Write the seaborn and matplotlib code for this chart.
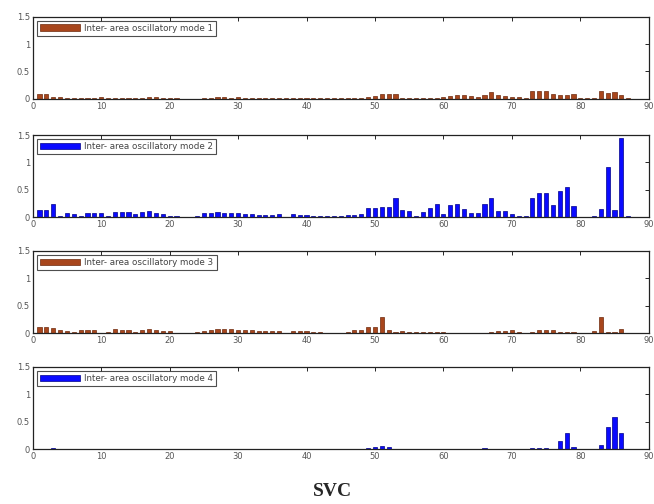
import numpy as np
import pandas as pd
import matplotlib
matplotlib.use("Agg")
import matplotlib.pyplot as plt
import seaborn as sns
from matplotlib.patches import Patch

bus_index = list(range(1, 88))

mode1 = [0.08,0.08,0.04,0.03,0.02,0.02,0.02,0.01,0.02,0.03,
         0.02,0.02,0.02,0.02,0.02,0.02,0.03,0.03,0.02,0.02,
         0.01,0.005,0.005,0.005,0.02,0.02,0.03,0.03,0.02,0.03,
         0.02,0.02,0.02,0.02,0.02,0.02,0.01,0.02,0.02,0.02,
         0.01,0.01,0.01,0.01,0.01,0.01,0.02,0.02,0.03,0.05,
         0.08,0.08,0.08,0.02,0.01,0.01,0.01,0.01,0.02,0.04,
         0.05,0.06,0.06,0.05,0.04,0.07,0.12,0.07,0.05,0.04,
         0.04,0.01,0.14,0.15,0.14,0.08,0.06,0.07,0.09,0.02,
         0.01,0.02,0.14,0.10,0.12,0.07,0.01]

mode2 = [0.14,0.14,0.24,0.03,0.08,0.05,0.03,0.08,0.08,0.08,
         0.03,0.10,0.10,0.10,0.05,0.10,0.12,0.07,0.05,0.03,
         0.02,0.01,0.01,0.03,0.07,0.08,0.10,0.08,0.07,0.08,
         0.05,0.05,0.04,0.04,0.04,0.05,0.01,0.05,0.04,0.04,
         0.03,0.03,0.03,0.03,0.03,0.04,0.04,0.06,0.16,0.16,
         0.18,0.18,0.35,0.13,0.12,0.03,0.09,0.16,0.24,0.05,
         0.22,0.24,0.15,0.07,0.07,0.24,0.35,0.12,0.12,0.06,
         0.03,0.02,0.35,0.45,0.45,0.22,0.47,0.56,0.20,0.00,
         0.00,0.02,0.15,0.91,0.13,1.45,0.02]

mode3 = [0.12,0.12,0.10,0.05,0.04,0.02,0.05,0.05,0.05,0.01,
         0.02,0.07,0.06,0.06,0.03,0.05,0.07,0.05,0.04,0.04,
         0.01,0.005,0.005,0.02,0.04,0.05,0.07,0.08,0.07,0.06,
         0.06,0.05,0.04,0.04,0.04,0.04,0.01,0.04,0.04,0.04,
         0.02,0.02,0.01,0.01,0.01,0.02,0.05,0.06,0.12,0.12,
         0.30,0.06,0.02,0.04,0.02,0.02,0.02,0.02,0.02,0.03,
         0.01,0.01,0.01,0.01,0.01,0.01,0.02,0.04,0.04,0.05,
         0.02,0.01,0.03,0.05,0.05,0.05,0.02,0.02,0.03,0.01,
         0.00,0.04,0.30,0.03,0.02,0.08,0.01]

mode4 = [0.01,0.01,0.02,0.00,0.00,0.00,0.00,0.00,0.00,0.00,
         0.00,0.00,0.00,0.00,0.00,0.00,0.00,0.01,0.00,0.00,
         0.00,0.00,0.00,0.00,0.00,0.00,0.00,0.00,0.00,0.00,
         0.00,0.00,0.00,0.00,0.00,0.00,0.00,0.00,0.00,0.00,
         0.00,0.00,0.00,0.00,0.00,0.00,0.00,0.00,0.02,0.03,
         0.05,0.03,0.01,0.00,0.00,0.00,0.00,0.00,0.00,0.01,
         0.00,0.00,0.01,0.00,0.00,0.02,0.01,0.00,0.00,0.00,
         0.00,0.00,0.02,0.02,0.02,0.00,0.15,0.30,0.03,0.00,
         0.00,0.00,0.08,0.40,0.59,0.30,0.00]

labels = ["Inter- area oscillatory mode 1", "Inter- area oscillatory mode 2",
          "Inter- area oscillatory mode 3", "Inter- area oscillatory mode 4"]
series = [mode1, mode2, mode3, mode4]
colors = ["#a8461c", "#0a0aff", "#a8461c", "#0a0aff"]
edges = ["#6e2a0e", "#00008a", "#6e2a0e", "#00008a"]
x_ticks = [0, 10, 20, 30, 40, 50, 60, 70, 80, 90]
y_ticks = [0, 0.5, 1, 1.5]
y_ticklabels = ["0", "0.5", "1", "1.5"]

sns.set_style("white")
fig = plt.figure(figsize=(6.54, 5.04), dpi=100)

bottoms = [0.804, 0.569, 0.339, 0.109]
for i in range(4):
    ax = fig.add_axes([0.050, bottoms[i], 0.942, 0.163])
    df = pd.DataFrame({"bus": bus_index, "val": series[i]})
    sns.barplot(data=df, x="bus", y="val", native_scale=True, color=colors[i],
                width=0.6, edgecolor=edges[i], linewidth=0.5, saturation=1,
                ax=ax, errorbar=None)
    ax.set_xlim(0, 90)
    ax.set_ylim(0, 1.5)
    ax.set_xticks(x_ticks)
    ax.set_xticklabels([str(t) for t in x_ticks])
    ax.set_yticks(y_ticks)
    ax.set_yticklabels(y_ticklabels)
    ax.set_xlabel("")
    ax.set_ylabel("")
    ax.tick_params(direction="in", length=3, width=0.7, labelsize=6,
                   labelcolor="#555555", top=True, right=True, pad=2)
    for s in ax.spines.values():
        s.set_visible(True)
        s.set_color("#222222")
        s.set_linewidth(0.9)
    h = Patch(facecolor=colors[i], edgecolor=edges[i], linewidth=0.5)
    leg = ax.legend([h], [labels[i]], loc="upper left", fontsize=6.3,
                    frameon=True, fancybox=False, edgecolor="#222222",
                    handlelength=4.6, handleheight=0.8, borderpad=0.35,
                    handletextpad=0.5, borderaxespad=0.45)
    leg.get_frame().set_linewidth(0.8)
    for t in leg.get_texts():
        t.set_color("#444444")

fig.text(0.509, 0.024, "SVC", ha="center", va="center", fontsize=14,
         fontweight="bold", family=["Liberation Serif", "DejaVu Serif"])

fig.savefig("out.png", dpi=100)
